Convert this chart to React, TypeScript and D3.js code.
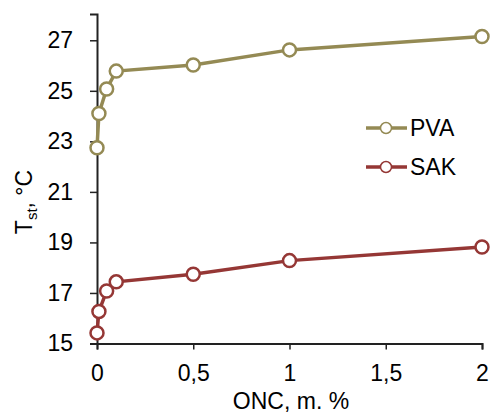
import * as d3 from 'd3';
import React, {useEffect, useRef} from "react";

const onc = [0, 0.01, 0.05, 0.1, 0.5, 1, 2];
const pva = [22.75, 24.1, 25.07, 25.78, 26.02, 26.62, 27.15];
const sak = [15.42, 16.27, 17.08, 17.44, 17.74, 18.28, 18.82];
const xTicks = [0, 0.5, 1, 1.5, 2];
const yTicks = [15, 17, 19, 21, 23, 25, 27];

const series = [
  {name: "PVA", values: pva, color: "#948a54"},
  {name: "SAK", values: sak, color: "#953735"},
];

export default function App() {
  const ref = useRef<SVGSVGElement>(null);

  useEffect(() => {
    const svg = d3.select(ref.current);
    svg.selectAll("*").remove();
    const font = "Liberation Sans, Arial, sans-serif";
    const fs = 23;

    const x = d3.scaleLinear().domain([0, 2]).range([97, 482]);
    const y = d3.scaleLinear().domain([15, 28.04]).range([343.5, 14]);

    const fmt = (d: number) => String(d).replace(".", ",");

    // x axis
    const gx = svg.append("g").attr("transform", `translate(0,${y(15)})`)
        .call(d3.axisBottom(x).tickValues(xTicks).tickFormat(d => fmt(+d)).tickSizeOuter(0).tickSize(6).tickPadding(15));
    gx.select(".domain").attr("stroke", "#222").attr("stroke-width", 2);
    gx.selectAll(".tick line").attr("stroke", "#222").attr("stroke-width", 1.5);
    gx.selectAll(".tick text").attr("font-family", font).attr("font-size", fs).attr("fill", "#000");

    // y axis
    const gy = svg.append("g").attr("transform", `translate(${x(0)},0)`)
        .call(d3.axisLeft(y).tickValues(yTicks).tickSizeOuter(0).tickSize(7).tickPadding(17));
    gy.select(".domain").attr("stroke", "#222").attr("stroke-width", 2);
    gy.selectAll(".tick line").attr("stroke", "#222").attr("stroke-width", 1.5);
    gy.selectAll(".tick text").attr("font-family", font).attr("font-size", fs).attr("fill", "#000");

    // titles
    svg.append("text")
        .attr("x", 291).attr("y", 409)
        .attr("text-anchor", "middle")
        .attr("font-family", font).attr("font-size", fs)
        .text("ONC, m. %");

    const yt = svg.append("text")
        .attr("transform", "translate(32,202) rotate(-90)")
        .attr("text-anchor", "middle")
        .attr("font-family", font).attr("font-size", fs);
    yt.append("tspan").text("T");
    yt.append("tspan").attr("font-size", 15).attr("dy", 5).text("st");
    yt.append("tspan").attr("dy", -5).text(", °C");

    const line = d3.line<number>().x((d, i) => x(onc[i])).y(d => y(d));

    series.forEach((s, k) => {
      svg.append("path")
          .attr("d", line(s.values))
          .attr("fill", "none")
          .attr("stroke", s.color)
          .attr("stroke-width", 3.5);
      svg.append("g").selectAll("circle")
          .data(s.values)
          .join("circle")
          .attr("cx", (d, i) => x(onc[i]))
          .attr("cy", d => y(d))
          .attr("r", 6.5)
          .attr("fill", "#fff")
          .attr("stroke", s.color)
          .attr("stroke-width", 2.5);

      // Legend
      const ly = 128 + k * 39;
      svg.append("line")
          .attr("x1", 366).attr("x2", 407).attr("y1", ly).attr("y2", ly)
          .attr("stroke", s.color).attr("stroke-width", 3.5);
      svg.append("circle")
          .attr("cx", 386).attr("cy", ly).attr("r", 5.5)
          .attr("fill", "#fff").attr("stroke", s.color).attr("stroke-width", 1.5);
      svg.append("text")
          .attr("x", 410).attr("y", ly + 8)
          .attr("font-family", font).attr("font-size", fs)
          .text(s.name);
    });
  }, []);

  return (
      <svg ref={ref} width={492} height={416}
           style={{position: "absolute", left: 0, top: 0, background: "#fff"}}/>
  );
}
